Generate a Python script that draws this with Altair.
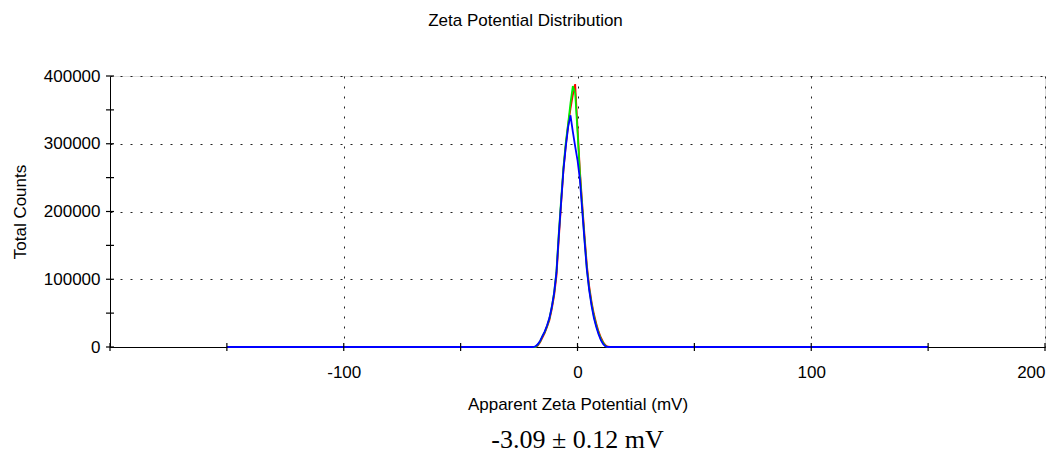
import altair as alt
import pandas as pd

# ---- data ----
X_MV = [-150, -19, -18, -17, -16, -15, -14, -13, -12, -11, -10, -9, -8, -7, -6, -5, -4, -3, -2, -1,
        0, 1, 2, 3, 4, 5, 6, 7, 8, 9, 10, 11, 12, 13, 14, 150]

RED_COUNTS = [0, 0, 0, 2000, 7000, 14000, 21000, 30000, 40000, 56000, 76000, 105000, 160000, 212000,
              262000, 298000, 328000, 352000, 372000, 388000, 325000, 262000, 212000, 165000, 121000,
              90000, 67000, 49000, 35000, 23000, 14000, 7000, 2500, 500, 0, 0]

GREEN_COUNTS = [0, 0, 0, 3000, 8000, 16000, 22000, 31000, 42000, 59000, 80000, 112000, 168000, 218000,
                266000, 302000, 330000, 360000, 385000, 375000, 318000, 258000, 207000, 160000, 116000,
                86000, 64000, 46000, 32000, 21000, 12000, 6000, 1500, 0, 0, 0]

BLUE_COUNTS = [0, 0, 1000, 4000, 9000, 16000, 23000, 32000, 43000, 59000, 80000, 110000, 165000, 214000,
               262000, 296000, 325000, 342000, 318000, 296000, 276000, 248000, 203000, 157000, 114000,
               84000, 61000, 43000, 30000, 19000, 10000, 4000, 1000, 0, 0, 0]

X_TICKS = [-200, -150, -100, -50, 0, 50, 100, 150, 200]
X_LABELS = [-100, 0, 100, 200]
Y_TICKS = [0, 50000, 100000, 150000, 200000, 250000, 300000, 350000, 400000]
Y_LABELS = [0, 100000, 200000, 300000, 400000]

TITLE = "Zeta Potential Distribution"
X_TITLE = "Apparent Zeta Potential (mV)"
Y_TITLE = "Total Counts"
RESULT_TEXT = "-3.09 \u00b1 0.12 mV"

FONT = "Liberation Sans"
W, H = 935, 271

xscale = alt.Scale(domain=[-200, 200], nice=False, zero=False)
yscale = alt.Scale(domain=[0, 400000], nice=False)

x_axis = alt.Axis(values=X_LABELS, title=X_TITLE, grid=True, ticks=False, tickSize=0,
                  labelExpr="'' + datum.value",
                  labelAlign={"condition": {"test": "datum.value == 200", "value": "right"},
                              "value": "center"},
                  labelPadding=17, titlePadding=16, labelFontSize=17, titleFontSize=17,
                  labelFont=FONT, titleFont=FONT, titleFontWeight="normal",
                  labelColor="black", titleColor="black", domainColor="black",
                  labelFlush=False, labelOverlap=False, labelBound=False,
                  gridColor="#222222", gridDash=[2, 8], gridWidth=1, gridOpacity=1)
y_axis = alt.Axis(values=Y_LABELS, title=Y_TITLE, grid=True, ticks=False, tickSize=0,
                  labelExpr="'' + datum.value",
                  labelPadding=10, titlePadding=14, labelFontSize=17, titleFontSize=17,
                  labelFont=FONT, titleFont=FONT, titleFontWeight="normal",
                  labelColor="black", titleColor="black", domainColor="black",
                  labelFlush=False, labelOverlap=False, labelBound=False,
                  gridColor="#222222", gridDash=[2, 8], gridWidth=1, gridOpacity=1)

def series_df(vals):
    return pd.DataFrame({"x": X_MV, "y": vals})

red_line = alt.Chart(series_df(RED_COUNTS)).mark_line(color="#ff0000", strokeWidth=1.8).encode(
    x=alt.X("x:Q", scale=xscale, axis=x_axis),
    y=alt.Y("y:Q", scale=yscale, axis=y_axis),
)
green_line = alt.Chart(series_df(GREEN_COUNTS)).mark_line(color="#00ee00", strokeWidth=1.8).encode(
    x=alt.X("x:Q", scale=xscale), y=alt.Y("y:Q", scale=yscale))
blue_line = alt.Chart(series_df(BLUE_COUNTS)).mark_line(color="#0000ff", strokeWidth=1.8).encode(
    x=alt.X("x:Q", scale=xscale), y=alt.Y("y:Q", scale=yscale))

xticks = alt.Chart(pd.DataFrame({"t": X_TICKS})).mark_rule(color="black", strokeWidth=1.2).encode(
    x=alt.X("t:Q", scale=xscale), y=alt.value(H - 4), y2=alt.value(H + 4))
yticks = alt.Chart(pd.DataFrame({"t": Y_TICKS})).mark_rule(color="black", strokeWidth=1.2).encode(
    y=alt.Y("t:Q", scale=yscale), x=alt.value(-4), x2=alt.value(4))

result = alt.Chart(pd.DataFrame({"s": [RESULT_TEXT]})).mark_text(
    font="Liberation Serif", fontSize=26, color="black", align="center", baseline="alphabetic"
).encode(text="s:N", x=alt.value(W / 2), y=alt.value(372))

chart = alt.layer(red_line, green_line, blue_line, xticks, yticks, result).properties(
    width=W, height=H,
    title=alt.TitleParams(TITLE, fontSize=17, font=FONT, fontWeight="normal", color="black",
                          anchor="middle", dx=-52, offset=37),
    autosize=alt.AutoSizeParams(type="none"),
    padding={"left": 102, "top": 68, "right": 8, "bottom": 108},
).configure_view(stroke=None).configure(background="white")

chart.save("out.html", embed_options={"renderer": "svg", "actions": False})
